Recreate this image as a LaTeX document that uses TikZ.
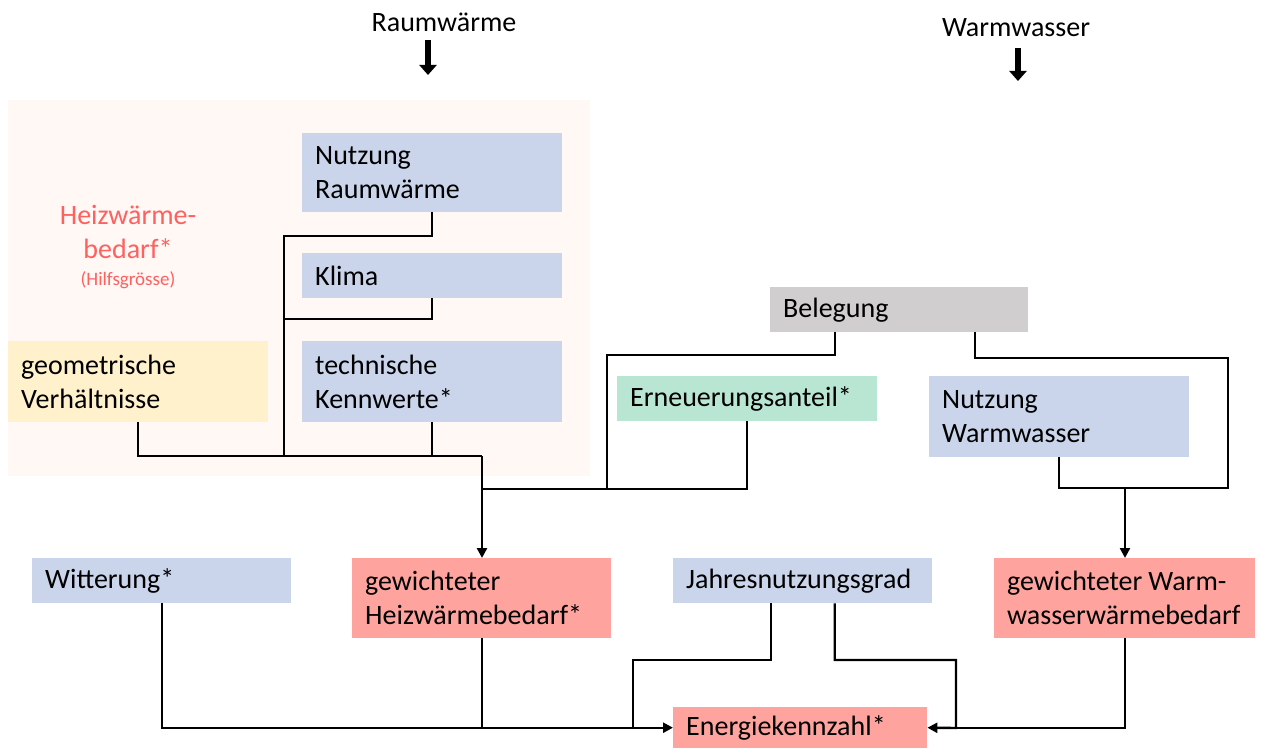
\documentclass[tikz,border=0pt]{standalone}
\usepackage{fontspec}
\setmainfont{Carlito}
\usetikzlibrary{arrows.meta,calc}
\definecolor{bluebox}{HTML}{CAD5EB}
\definecolor{redbox}{HTML}{FFA39E}
\definecolor{greenbox}{HTML}{B8E6D2}
\definecolor{graybox}{HTML}{D0CECE}
\definecolor{yellowbox}{HTML}{FFF1CC}
\definecolor{pinkbg}{HTML}{FFF8F5}
\definecolor{redtext}{HTML}{FF6060}
\begin{document}
\begin{tikzpicture}[x=1pt,y=-1pt,
  box/.style={anchor=north west, inner xsep=13pt, inner ysep=0pt, align=left,
    text width=234pt, minimum height=#1, font=\fontsize{28}{34}\selectfont},
  box/.default=46pt,
  conn/.style={line width=2.4pt, draw=black},
  arr/.style={conn, -{Triangle[width=10pt,length=10pt]}},
  bigarr/.style={line width=6pt, -{Triangle[width=17pt,length=10pt]}},
  lbl/.style={font=\fontsize{28}{34}\selectfont}
]
\useasboundingbox (0,0) rectangle (1262,749);
\fill[pinkbg] (8,100) rectangle (590,476);

% headings
\node[lbl] (rw) at (444,22) {Raumwärme};
\node[lbl] (ww) at (1016,28) {Warmwasser};
\coordinate (rwa) at (428,40);
\coordinate (rwb) at (428,75);
\coordinate (wwa) at (1018,48);
\coordinate (wwb) at (1018,81);
\draw[bigarr] (rwa) -- (rwb);
\draw[bigarr] (wwa) -- (wwb);

\node[font=\fontsize{28}{34}\selectfont, text=redtext, align=center] (hb) at (128,232) {Heizwärme-\\bedarf*};
\node[font=\fontsize{19}{22}\selectfont, text=redtext] (hg) at (128,280) {(Hilfsgrösse)};

% boxes
\node[box=79pt, fill=bluebox] (nr) at (302,133) {Nutzung\\Raumwärme};
\node[box=45pt, fill=bluebox] (kl) at (302,253) {Klima};
\node[box=81pt, fill=bluebox] (tk) at (302,341) {technische\\Kennwerte*};
\node[box=81pt, fill=yellowbox] (gv) at (8,341) {geometrische\\Verhältnisse};
\node[box=45pt, fill=graybox, text width=232pt] (be) at (770,287) {Belegung};
\node[box=45pt, fill=greenbox] (ea) at (617,376) {Erneuerungsanteil*};
\node[box=81pt, fill=bluebox] (nw) at (929,376) {Nutzung\\Warmwasser};
\node[box=45pt, fill=bluebox, text width=233pt] (wi) at (32,558) {Witterung*};
\node[box=80pt, fill=redbox, text width=233pt] (gh) at (352,558) {gewichteter\\Heizwärmebedarf*};
\node[box=45pt, fill=bluebox, text width=233pt] (jn) at (673,558) {Jahresnutzungsgrad};
\node[box=80pt, fill=redbox, text width=235pt] (gw) at (994,558) {gewichteter\hspace{6pt}Warm-\\wasserwärmebedarf};
\node[box=41pt, fill=redbox, text width=228pt] (ek) at (673,707) {Energiekennzahl*};

% junction coordinates
\coordinate (j1) at (284,236);
\coordinate (j2) at (284,319);
\coordinate (j3) at (284,456);
\coordinate (j4) at (482,456);
\coordinate (j5) at (482,489);
\coordinate (j6) at (607,489);
\coordinate (j7) at (607,355);
\coordinate (j8) at (1228,358);
\coordinate (j9) at (1228,488);
\coordinate (j10) at (1125,488);
\coordinate (j11) at (633,728);
\coordinate (j12) at (633,660);
\coordinate (j13) at (956,660);
\coordinate (j14) at (956,728);

% Raumwärme connectors
\draw[conn] (nr.south) |- (j1) -- (j3);
\draw[conn] (kl.south) |- (j2);
\draw[conn] (gv.south) |- (j3) -- (j4);
\draw[conn] (tk.south) |- (j4);
\draw[arr] (j4) -- (gh.north -| j4);
\draw[conn] (ea.south) |- (j5);
\draw[conn] ($(be.south)+(-64,0)$) |- (j7) -- (j6);

% Warmwasser connectors
\draw[conn] ($(be.south)+(76,0)$) |- (j8) -- (j9) -- (nw.south |- j9) -- (nw.south);
\draw[arr] (j10) -- (gw.north -| j10);

% Energiekennzahl connectors
\draw[arr] (wi.south) |- (ek.west);
\draw[conn] (gh.south) -- (gh.south |- ek.west);
\draw[conn] ($(jn.south)+(-32,0)$) |- (j12) -- (j11);
\draw[arr] ($(jn.south)+(32,0)$) |- (j13) -- (j14) -- (ek.east);
\draw[conn] (gw.south) |- (j14);
\end{tikzpicture}
\end{document}
